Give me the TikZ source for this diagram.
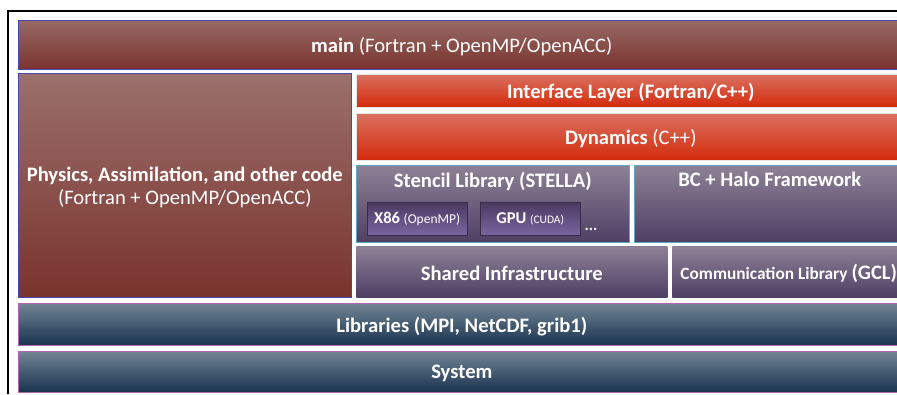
\documentclass[tikz,border=0pt]{standalone}
\usepackage{fontspec}
\setmainfont{Carlito}
\usetikzlibrary{positioning}

\definecolor{mainTop}{HTML}{976A66}
\definecolor{mainBot}{HTML}{7A332D}
\definecolor{redTop}{HTML}{D9715F}
\definecolor{redBot}{HTML}{D42A0C}
\definecolor{purTop}{HTML}{8D8196}
\definecolor{purBot}{HTML}{4E3F64}
\definecolor{inTop}{HTML}{4C3A62}
\definecolor{inBot}{HTML}{7B65A0}
\definecolor{bluTop}{HTML}{718494}
\definecolor{bluBot}{HTML}{19334F}

\begin{document}
\begin{tikzpicture}[x=1pt, y=-1pt,
		every node/.style = {inner sep=0pt, text=white},
		blk/.style args = {#1/#2}{%
			rectangle, anchor=north west,
			minimum width=#1, minimum height=#2},
		brown/.style = {top color=mainTop, bottom color=mainBot, draw=blue!45!gray, line width=0.6pt},
		redl/.style  = {top color=redTop, bottom color=redBot, draw=white!80!gray, line width=0.6pt},
		purp/.style  = {top color=purTop, bottom color=purBot, draw=cyan!50!gray, line width=0.6pt},
		inner/.style = {top color=inTop, bottom color=inBot, draw=purBot!70!black, line width=0.4pt},
		blue/.style  = {top color=bluTop, bottom color=bluBot, draw=violet!60!white, line width=0.6pt},
		big/.style   = {font=\fontsize{20.6}{23}\selectfont},
		lbl/.style   = {big, yshift=-2pt}
		]
		\useasboundingbox (0,0) rectangle (897,394);

		% outer frame
		\draw[line width=1.3pt] (8,394) -- (8,11) -- (897,11);

		% top level
		\node(main) [blk=887pt/49pt, brown] at (18,20) {};
		\node(mainT) [lbl] at (main.center) {\textbf{main} (Fortran + OpenMP/OpenACC)};

		\node(phys) [blk=333pt/224pt, brown, top color=mainTop!96!white] at (18,73) {};
		\node(physT) [lbl, align=center] at (phys.center)
			{\textbf{Physics, Assimilation, and other code}\\(Fortran + OpenMP/OpenACC)};

		% C++ side
		\node(intf) [blk=549pt/33pt, redl] at (356,74) {};
		\node(intfT) [lbl] at (intf.center) {\textbf{Interface Layer (Fortran/C++)}};

		\node(dyn) [blk=549pt/47pt, redl] at (356,113) {};
		\node(dynT) [lbl] at (dyn.center) {\textbf{Dynamics} (C++)};

		\node(sten) [blk=273pt/77pt, purp] at (356,165) {};
		\node(stenT) [big, below=7pt of sten.north] {\textbf{Stencil Library (STELLA)}};

		\node(x86) [blk=100pt/33pt, inner] at (367,202) {};
		\node(x86T) at (x86.center) {\fontsize{16.5}{18}\selectfont\textbf{X86} {\fontsize{13.5}{15}\selectfont(OpenMP)}};
		\node(gpu) [blk=100pt/33pt, inner] at (480,202) {};
		\node(gpuT) at (gpu.center) {\fontsize{16.5}{18}\selectfont\textbf{GPU} {\fontsize{11.5}{13}\selectfont(CUDA)}};
		\node(dots) [right=4pt of gpu.south east, anchor=south west, yshift=5pt]
			{\fontsize{16}{18}\selectfont\textbf{...}};

		\node(halo) [blk=271pt/77pt, purp] at (634,165) {};
		\node(haloT) [big, below=7pt of halo.north] {\textbf{BC + Halo Framework}};

		\node(shrd) [blk=311pt/51pt, purp, draw=none] at (356,246) {};
		\node(shrdT) [lbl] at (shrd.center) {\textbf{Shared Infrastructure}};

		\node(comm) [blk=233pt/51pt, purp, draw=none] at (672,246) {};
		\node(commT) [yshift=-2pt] at (comm.center)
			{\fontsize{17.3}{20}\selectfont\textbf{Communication Library} {\fontsize{20.6}{23}\selectfont\textbf{(GCL)}}};

		% bottom layers
		\node(libs) [blk=887pt/42pt, blue] at (18,303) {};
		\node(libsT) [lbl] at (libs.center) {\textbf{Libraries (MPI, NetCDF, grib1)}};

		\node(sys) [blk=887pt/41pt, blue] at (18,351) {};
		\node(sysT) [lbl] at (sys.center) {\textbf{System}};
	\end{tikzpicture}
\end{document}
